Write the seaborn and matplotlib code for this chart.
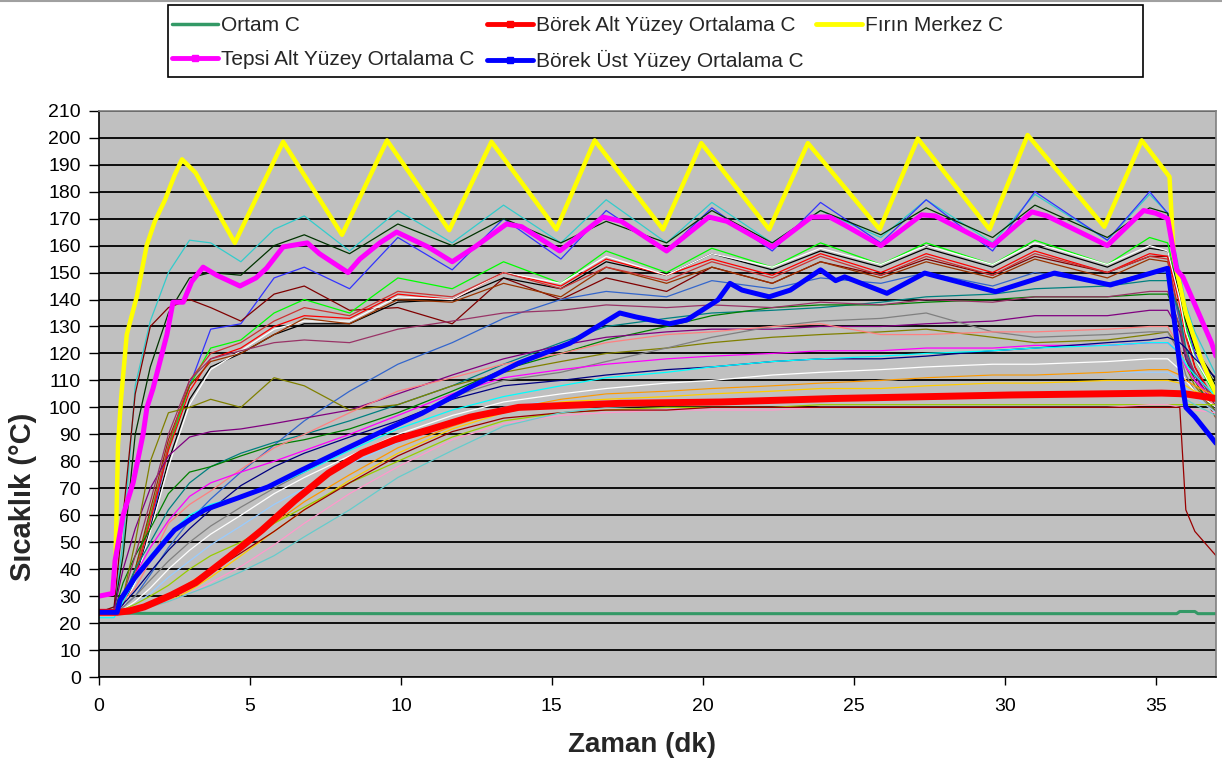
import matplotlib
matplotlib.use("Agg")
import matplotlib.pyplot as plt
from matplotlib.lines import Line2D
from matplotlib.patches import Rectangle
import pandas as pd
import seaborn as sns

# ---------------------------------------------------------------- data
# Fırın Merkez C (oven centre)
oven_time = [0, 0.45, 0.55, 0.63, 0.73, 0.92, 1.25, 1.58, 1.85, 2.19, 2.5, 2.75, 3.2,
             4.5, 6.1, 8.05, 9.54, 11.6, 13.0, 15.15, 16.42, 18.68, 19.95, 22.2, 23.48,
             25.86, 27.12, 29.5, 30.76, 33.3, 34.54, 35.46, 35.6, 36.0, 36.5, 37.0]
oven_temp = [30, 31, 45, 86, 103, 127, 141, 160, 169, 177, 186, 192, 187,
             161, 198.5, 164, 199, 165.7, 198.5, 166, 199, 166, 198, 166, 198,
             166, 199.7, 166, 201, 167, 199, 185.5, 156, 135, 118, 105]

# Tepsi Alt Yüzey Ortalama C (tray bottom average)
tray_time = [0, 0.45, 0.53, 0.8, 1.13, 1.46, 1.59, 1.79, 2.25, 2.45, 2.79, 3.07, 3.45,
             3.9, 4.67, 5.2, 5.55, 6.1, 6.9, 7.3, 8.25, 8.64, 9.3, 9.86, 10.9, 11.7,
             12.45, 13.5, 14.0, 15.26, 16.7, 17.3, 18.8, 20.2, 20.8, 22.3, 23.6, 24.2,
             24.7, 25.9, 27.25, 27.7, 29.6, 30.9, 31.4, 33.4, 34.6, 35.0, 35.4, 35.7,
             35.9, 36.85, 37.0]
tray_temp = [30, 31, 43, 60, 72, 90, 100, 107, 127, 139, 139, 146.6, 152,
             149, 145, 148, 151.6, 159.5, 161, 157, 150, 155, 161, 165, 159.5, 154,
             159.5, 168, 167, 158, 170.6, 169, 158, 170.6, 169, 159.5, 170.6, 170.6,
             167.6, 160, 171.4, 171, 160, 172.5, 171, 160, 173, 172, 170, 151,
             148.4, 124, 119]

# Börek Üst Yüzey Ortalama C (pastry top surface average)
top_time = [0, 0.6, 0.7, 1.2, 1.75, 2.5, 3.5, 4.6, 5.6, 6.7, 8.05, 9.25, 10.7, 12.3,
            13.9, 15.6, 17.25, 17.8, 18.9, 19.47, 20.5, 20.9, 21.3, 22.2, 22.9, 23.9,
            24.4, 24.7, 26.1, 27.35, 28.3, 29.7, 31.65, 33.5, 35.4, 35.55, 35.85, 36.0,
            36.3, 37.0]
top_temp = [24, 24, 28.5, 37, 44.5, 54.5, 62, 66.4, 70.5, 76.7, 84, 90.4, 97.8, 107.5,
            116.4, 123.8, 135, 133.5, 131, 132.4, 139.8, 146, 143.5, 141, 143.5, 151,
            147, 148.4, 142.3, 149.8, 147, 142.9, 149.8, 145.4, 151.6, 138.6, 111, 100,
            96.5, 86.7]

# Börek Alt Yüzey Ortalama C (pastry bottom surface average)
bottom_time = [0, 0.6, 1.0, 1.5, 2.4, 3.2, 4.3, 5.4, 6.5, 7.6, 8.7, 9.8, 10.9, 12.3,
               13.9, 15.0, 17.25, 20.6, 24.4, 30.2, 35.2, 36.0, 37.0]
bottom_temp = [24, 24, 24.5, 26, 30.4, 35, 44.5, 54.5, 65.6, 75.6, 83, 88, 91.6, 96.4,
               100, 100.5, 101.5, 102, 103.3, 104.6, 105.3, 105, 103.3]

# Ortam C (ambient)
ambient_time = [0, 1.5, 10, 20, 30, 35.7, 35.8, 36.3, 36.4, 37.0]
ambient_temp = [23.8, 23.6, 23.5, 23.5, 23.5, 23.5, 24.3, 24.3, 23.5, 23.5]

# individual thermocouples, sampled on a shared time base
tc_time = [0, 0.5, 0.8, 1.2, 1.7, 2.3, 3.0, 3.7, 4.7, 5.8, 6.8, 8.3, 9.9, 11.7, 13.4,
           15.3, 16.8, 18.8, 20.3, 22.3, 23.9, 25.9, 27.4, 29.6, 31.0, 33.4, 34.8, 35.4,
           35.8, 36.0, 36.3, 37.0]
tc01 = [24, 26, 50, 108, 132, 150, 162, 161, 154, 166, 171, 158, 173, 161, 175,
        161, 177, 161, 176, 161, 173, 163, 177, 161, 179, 162, 179, 172, 150, 138, 128, 112]
tc02 = [24, 24, 30, 36, 55, 85, 108, 129, 131, 148, 152, 144, 163, 151, 170,
        155, 173, 158, 174, 158, 176, 161, 177, 158, 180, 162, 180, 172, 145, 132, 120, 105]
tc03 = [24, 25, 45, 90, 115, 135, 148, 150, 149, 160, 164, 157, 168, 160, 170,
        161, 169, 161, 173, 161, 173, 164, 174, 163, 175, 163, 174, 172, 148, 135, 122, 108]
tc04 = [24, 26, 60, 105, 130, 137, 140, 137, 132, 142, 145, 136, 137, 131, 148,
        140, 148, 143, 152, 146, 154, 149, 155, 149, 156, 150, 156, 156, 140, 128, 115, 100]
tc05 = [24, 24, 28, 40, 60, 85, 108, 122, 125, 135, 140, 135, 148, 144, 154,
        146, 158, 150, 159, 152, 161, 153, 161, 153, 162, 153, 163, 161, 142, 130, 118, 104]
tc06 = [24, 24, 27, 36, 55, 80, 103, 115, 120, 127, 131, 131, 139, 140, 148,
        144, 154, 149, 157, 151, 158, 152, 159, 152, 160, 152, 159, 158, 142, 132, 122, 110]
tc07 = [24, 24, 27, 37, 58, 84, 106, 118, 122, 130, 134, 133, 142, 140, 150,
        145, 155, 149, 155, 149, 157, 150, 157, 150, 158, 150, 157, 156, 138, 126, 115, 102]
tc08 = [24, 24, 26, 35, 54, 78, 101, 114, 121, 129, 132, 132, 141, 140, 150,
        146, 156, 149, 157, 152, 159, 153, 160, 153, 161, 153, 160, 158, 140, 128, 118, 105]
tc09 = [24, 24, 28, 40, 62, 88, 108, 117, 120, 127, 133, 131, 140, 139, 146,
        141, 152, 146, 152, 146, 154, 148, 154, 148, 155, 148, 155, 154, 134, 120, 110, 96]
tc10 = [24, 24, 27, 38, 59, 86, 110, 120, 124, 132, 137, 134, 143, 141, 150,
        144, 152, 147, 154, 148, 156, 149, 156, 149, 157, 150, 156, 155, 132, 120, 112, 98]
tc11 = [24, 24, 26, 30, 38, 48, 58, 66, 76, 86, 95, 106, 116, 124, 133,
        140, 143, 141, 147, 144, 148, 146, 150, 145, 150, 146, 150, 150, 132, 120, 110, 98]
tc12 = [24, 24, 30, 40, 50, 62, 72, 78, 83, 87, 90, 95, 101, 108, 116,
        124, 130, 133, 135, 136, 137, 139, 141, 142, 144, 145, 147, 147, 135, 122, 112, 100]
tc13 = [24, 24, 35, 45, 55, 68, 76, 78, 82, 86, 88, 92, 98, 106, 114,
        120, 125, 130, 134, 137, 138, 138, 139, 140, 141, 141, 142, 142, 130, 118, 110, 98]
tc14 = [24, 25, 40, 55, 70, 82, 89, 91, 92, 94, 96, 99, 105, 112, 118,
        123, 126, 128, 129, 129, 130, 130, 131, 132, 134, 134, 136, 136, 128, 118, 112, 100]
tc15 = [24, 25, 30, 45, 65, 90, 110, 118, 121, 124, 125, 124, 129, 132, 135,
        136, 138, 137, 138, 137, 139, 138, 140, 139, 141, 141, 143, 143, 130, 120, 113, 102]
tc16 = [24, 24, 30, 50, 80, 98, 100, 103, 100, 111, 108, 99, 101, 108, 113,
        117, 120, 122, 124, 126, 127, 128, 129, 126, 124, 125, 127, 128, 122, 115, 108, 98]
tc17 = [24, 24, 26, 30, 36, 43, 50, 56, 63, 70, 76, 85, 94, 104, 110,
        113, 117, 122, 126, 130, 132, 133, 135, 128, 126, 127, 128, 128, 120, 112, 106, 98]
tc18 = [24, 24, 28, 33, 43, 57, 64, 69, 77, 85, 90, 98, 106, 111, 116,
        120, 124, 127, 128, 130, 131, 127, 127, 128, 128, 129, 130, 130, 122, 115, 110, 100]
tc19 = [24, 24, 30, 38, 48, 58, 67, 72, 76, 80, 84, 90, 97, 105, 111,
        114, 116, 118, 119, 120, 121, 121, 122, 122, 123, 123, 124, 124, 120, 115, 110, 102]
tc20 = [24, 24, 27, 32, 39, 47, 55, 62, 71, 78, 83, 89, 95, 103, 108,
        110, 112, 114, 115, 117, 118, 118, 119, 121, 122, 124, 125, 126, 124, 122, 118, 111]
tc21 = [22, 22, 28, 36, 45, 53, 60, 64, 67, 71, 76, 84, 92, 99, 104,
        108, 111, 113, 115, 117, 118, 119, 120, 121, 122, 123, 124, 124, 120, 116, 112, 104]
tc22 = [24, 24, 25, 28, 33, 40, 47, 53, 60, 68, 74, 82, 90, 97, 102,
        105, 107, 109, 110, 112, 113, 114, 115, 116, 116, 117, 118, 118, 114, 110, 106, 100]
tc23 = [24, 24, 25, 27, 31, 37, 43, 49, 56, 64, 70, 79, 87, 95, 100,
        103, 105, 106, 107, 108, 109, 110, 111, 112, 112, 113, 113, 113, 110, 107, 104, 98]
tc24 = [24, 24, 24, 25, 27, 30, 35, 40, 48, 57, 65, 75, 85, 93, 99,
        103, 105, 106, 107, 108, 109, 110, 111, 112, 112, 113, 114, 114, 112, 110, 108, 104]
tc25 = [24, 24, 24, 25, 26, 28, 32, 37, 45, 54, 62, 73, 83, 92, 98,
        102, 103, 104, 105, 106, 107, 107, 108, 109, 109, 110, 110, 110, 109, 108, 106, 103]
tc26 = [24, 24, 25, 27, 30, 34, 40, 45, 50, 57, 63, 72, 80, 89, 95,
        98, 99, 100, 100, 100, 101, 101, 101, 101, 101, 101, 101, 101, 101, 101, 101, 101]
tc27 = [24, 24, 24, 25, 26, 28, 31, 35, 41, 49, 57, 68, 78, 88, 94,
        97, 98, 99, 99, 99, 100, 100, 100, 100, 100, 100, 101, 101, 100, 100, 99, 98]
tc28 = [24, 24, 24, 25, 27, 30, 34, 39, 46, 54, 62, 72, 82, 91, 96,
        98, 99, 99, 100, 100, 100, 100, 100, 100, 100, 100, 100, 100, 100, 62, 54, 45]
tc29 = [24, 24, 24, 25, 26, 28, 31, 34, 39, 45, 52, 62, 74, 84, 93,
        98, 100, 101, 102, 103, 104, 104, 104, 105, 105, 105, 105, 105, 104, 103, 101, 97]

legend_labels = ["Ortam C", "Tepsi Alt Yüzey Ortalama C", "Börek Alt Yüzey Ortalama C",
                 "Börek Üst Yüzey Ortalama C", "Fırın Merkez C"]
x_ticks = [0, 5, 10, 15, 20, 25, 30, 35]
y_ticks = list(range(0, 211, 10))

# ---------------------------------------------------------------- styling
tc_colors = ["#33CCCC", "#3333FF", "#003300", "#800000", "#00FF00", "#000000",
             "#FF0000", "#FFFFFF", "#993300", "#CC3333", "#3366CC", "#008080",
             "#008000", "#800080", "#993366", "#808000", "#808080", "#FF8080",
             "#FF00FF", "#000080", "#00FFFF", "#FFFFFF", "#99CCFF", "#FF9900",
             "#FFCC00", "#99CC00", "#FF99CC", "#990000", "#66CCCC"]

sns.set_theme(style="white")
plt.rcParams["font.family"] = ["Liberation Sans", "DejaVu Sans"]

fig = plt.figure(figsize=(12.22, 7.67), dpi=100)
ax = fig.add_axes([0.0810, 0.1173, 0.9141, 0.7383])
ax.set_facecolor("#C0C0C0")

# thin thermocouple traces
series = [tc01, tc02, tc03, tc04, tc05, tc06, tc07, tc08, tc09, tc10, tc11, tc12, tc13,
          tc14, tc15, tc16, tc17, tc18, tc19, tc20, tc21, tc22, tc23, tc24, tc25, tc26,
          tc27, tc28, tc29]
frames = []
for i, vals in enumerate(series):
    frames.append(pd.DataFrame({"zaman": tc_time, "sicaklik": vals, "prob": f"T{i + 1:02d}"}))
thin = pd.concat(frames, ignore_index=True)
names = [f"T{i + 1:02d}" for i in range(len(series))]
sns.lineplot(data=thin, x="zaman", y="sicaklik", hue="prob", hue_order=names,
             palette=dict(zip(names, tc_colors)), linewidth=0.9, estimator=None,
             sort=False, legend=False, ax=ax)

# highlighted averages
sns.lineplot(x=ambient_time, y=ambient_temp, color="#339966", linewidth=2.2,
             estimator=None, sort=False, ax=ax)
sns.lineplot(x=oven_time, y=oven_temp, color="#FFFF00", linewidth=3.2,
             estimator=None, sort=False, ax=ax)
sns.lineplot(x=bottom_time, y=bottom_temp, color="#FF0000", linewidth=5.0,
             estimator=None, sort=False, ax=ax)
sns.lineplot(x=tray_time, y=tray_temp, color="#FF00FF", linewidth=3.6,
             estimator=None, sort=False, ax=ax)
sns.lineplot(x=top_time, y=top_temp, color="#0000FF", linewidth=3.6,
             estimator=None, sort=False, ax=ax)

ax.set_xlim(0, 37)
ax.set_ylim(0, 210)
ax.set_xticks(x_ticks)
ax.set_yticks(y_ticks)
ax.set_xticklabels([str(v) for v in x_ticks])
ax.set_yticklabels([str(v) for v in y_ticks])
ax.set_axisbelow(True)
ax.yaxis.grid(True, color="black", linewidth=1.3)
ax.xaxis.grid(False)
ax.tick_params(axis="y", direction="out", length=7, width=1, pad=6, labelsize=14,
               colors="black", left=True)
ax.tick_params(axis="x", direction="out", length=6, width=1, pad=9, labelsize=14,
               colors="black", bottom=True)
for side in ("left", "bottom"):
    ax.spines[side].set_color("black")
    ax.spines[side].set_linewidth(1.2)
for side in ("top", "right"):
    ax.spines[side].set_color("#808080")
    ax.spines[side].set_linewidth(1.2)
ax.set_xlabel("")
ax.set_ylabel("")

fig.text(0.525, 0.029, "Zaman (dk)", ha="center", va="center", fontsize=20,
         fontweight="bold")
fig.text(0.019, 0.352, "Sıcaklık (°C)", ha="center", va="center", rotation=90,
         fontsize=21, fontweight="bold")

# thin frame line along the top edge
fig.add_artist(Line2D([0, 1], [0.9985, 0.9985], transform=fig.transFigure,
                      color="#A0A0A0", linewidth=1.5))

# legend box across the top
fig.patches.append(Rectangle((0.1375, 0.8996), 0.7979, 0.0939, transform=fig.transFigure,
                             facecolor="white", edgecolor="black", linewidth=1.2))
handles = [
    Line2D([], [], color="#339966", linewidth=2.5),
    Line2D([], [], color="#FF00FF", linewidth=3.5, marker="s", markersize=5),
    Line2D([], [], color="#FF0000", linewidth=3.5, marker="s", markersize=5),
    Line2D([], [], color="#0000FF", linewidth=3.5, marker="s", markersize=5),
    Line2D([], [], color="#FFFF00", linewidth=3.5),
]
fig.legend(handles, legend_labels, loc="upper left", bbox_to_anchor=(0.1408, 0.979),
           bbox_transform=fig.transFigure, ncol=3, frameon=False, fontsize=15,
           handlelength=2.2, handletextpad=0.15, columnspacing=0.6, labelspacing=0.72,
           borderpad=0, borderaxespad=0)

fig.savefig("out.png", dpi=100, facecolor="white")
